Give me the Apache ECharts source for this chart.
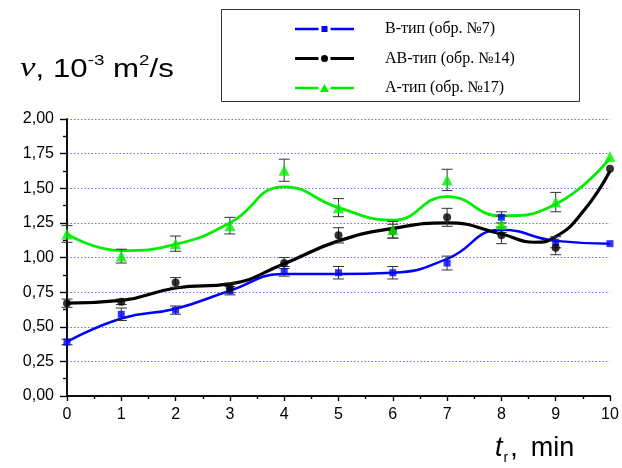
<!DOCTYPE html>
<html><head><meta charset="utf-8">
<script src="https://cdn.jsdelivr.net/npm/echarts@6/dist/echarts.min.js"></script>
<style>html,body{margin:0;padding:0;background:#fff}#c{width:622px;height:468px}</style>
</head><body><div id="c"></div>
<script>
var time = [0,1,2,3,4,5,6,7,8,9,10];
var xTicks = ['0','1','2','3','4','5','6','7','8','9','10'];
var legendNames = ['В-тип (обр. №7)', 'АВ-тип (обр. №14)', 'А-тип (обр. №17)'];
// measured points
var bValues  = [0.39,0.59,0.62,0.76,0.90,0.89,0.89,0.96,1.29,1.11,1.10];
var bErr     = [0.02,0.045,0.03,0.03,0.035,0.045,0.045,0.05,0.04,0.04,0.0];
var abValues = [0.67,0.68,0.82,0.78,0.96,1.16,1.19,1.29,1.16,1.07,1.64];
var abErr    = [0.03,0.02,0.035,0.035,0.04,0.055,0.05,0.065,0.06,0.05,0.0];
var aValues  = [1.17,1.01,1.10,1.23,1.63,1.36,1.20,1.56,1.24,1.40,1.73];
var aErr     = [0.06,0.05,0.055,0.06,0.08,0.065,0.06,0.077,0.06,0.07,0.0];
// fitted curves
var bFitTime  = [0,1,2,3,4,5,6,7,8,9,10];
var bFit      = [0.39,0.56,0.63,0.76,0.88,0.88,0.89,0.99,1.20,1.12,1.10];
var abFitTime = [0,1,2,3,4,5,6,7,8,8.6,9,9.5,10];
var abFit     = [0.67,0.69,0.78,0.81,0.955,1.12,1.21,1.25,1.17,1.11,1.15,1.33,1.625];
var aFitTime  = [0,1,2,3,4,5,6,7,8,9,10];
var aFit      = [1.17,1.05,1.095,1.25,1.51,1.36,1.27,1.44,1.30,1.385,1.72];

function pairs(v){ return time.map(function(t,i){ return [t, v[i]]; }); }
function fitPairs(ts, v){ return ts.map(function(t,i){ return [t, v[i]]; }); }
function errData(v,e){ return time.map(function(t,i){ return [t, v[i]-e[i], v[i]+e[i]]; }); }
function errSeries(v,e,z){
  return {type:'custom', data: errData(v,e), z: z, silent:true,
    renderItem: function(params, api){
      var x = api.value(0), lo = api.value(1), hi = api.value(2);
      if (hi - lo < 1e-6) return null;
      var p1 = api.coord([x, lo]), p2 = api.coord([x, hi]);
      var w = 5.5;
      var st = {stroke:'#333', lineWidth:1};
      return {type:'group', children:[
        {type:'line', shape:{x1:p1[0],y1:p1[1],x2:p2[0],y2:p2[1]}, style:st},
        {type:'line', shape:{x1:p1[0]-w,y1:p1[1],x2:p1[0]+w,y2:p1[1]}, style:st},
        {type:'line', shape:{x1:p2[0]-w,y1:p2[1],x2:p2[0]+w,y2:p2[1]}, style:st}
      ]};
    }};
}
// legend icons: line - gap - marker - gap - line (59 x 10 box)
var pad = 'M0,0 L0.01,0 Z M59,10 L58.99,10 Z ';
var iconB  = 'path://' + pad + 'M0,3.75 L23.5,3.75 L23.5,6.25 L0,6.25 Z M26.5,2 L32.5,2 L32.5,8 L26.5,8 Z M35.5,3.75 L59,3.75 L59,6.25 L35.5,6.25 Z';
var iconAB = 'path://' + pad + 'M0,3.5 L23.5,3.5 L23.5,6.5 L0,6.5 Z M26,5 A3.5,3.5 0 1,0 33,5 A3.5,3.5 0 1,0 26,5 Z M35.5,3.5 L59,3.5 L59,6.5 L35.5,6.5 Z';
var iconA  = 'path://' + pad + 'M0,3.75 L23.5,3.75 L23.5,6.25 L0,6.25 Z M25,9 L29.5,1 L34,9 Z M35.5,3.75 L59,3.75 L59,6.25 L35.5,6.25 Z';

var chart = echarts.init(document.getElementById('c'), null, {renderer:'canvas'});
var axisLine = {show:true, lineStyle:{color:'#000', width:1.5}};
chart.setOption({
  animation:false,
  backgroundColor:'#fff',
  grid:{left:67, top:119, right:12, bottom:72, containLabel:false},
  legend:{
    data: [{name:legendNames[0], icon:iconB}, {name:legendNames[1], icon:iconAB}, {name:legendNames[2], icon:iconA}],
    orient:'vertical', left:295, top:21, padding:0,
    itemWidth:59, itemHeight:10, itemGap:13.5,
    textStyle:{fontFamily:'Liberation Serif', fontSize:16, lineHeight:16, color:'#000', padding:[0,0,0,26]},
    selectedMode:false
  },
  xAxis:[
    {type:'value', min:0, max:10, interval:1, position:'bottom',
     axisLine:axisLine,
     axisTick:{show:true, inside:false, length:5, lineStyle:{color:'#000', width:1.2}},
     minorTick:{show:true, splitNumber:2, length:3, lineStyle:{color:'#000', width:1.2}},
     splitLine:{show:false},
     axisLabel:{margin:11, fontFamily:'Liberation Sans', fontSize:16, color:'#000',
       formatter:function(v){ return xTicks[Math.round(v)]; }}},
    {type:'value', min:0, max:10, interval:1, position:'top',
     axisLine:axisLine,
     axisTick:{show:true, inside:true, length:5, lineStyle:{color:'#000', width:1.2}},
     minorTick:{show:true, splitNumber:2, length:3, lineStyle:{color:'#000', width:1.2}},
     splitLine:{show:false}, axisLabel:{show:false}}
  ],
  yAxis:[
    {type:'value', min:0, max:2, interval:0.25, position:'left',
     axisLine:axisLine,
     axisTick:{show:true, inside:false, length:7, lineStyle:{color:'#000', width:1.2}},
     minorTick:{show:true, splitNumber:2, length:4, lineStyle:{color:'#000', width:1.2}},
     splitLine:{show:true, lineStyle:{color:'#6f6fff', type:[1.5,2], width:1}},
     axisLabel:{margin:13, fontFamily:'Liberation Sans', fontSize:16, color:'#000',
       formatter:function(v){ return v.toFixed(2).replace('.', ','); }}},
    {type:'value', min:0, max:2, interval:0.25, position:'right',
     axisLine:axisLine,
     axisTick:{show:true, inside:true, length:7, lineStyle:{color:'#000', width:1.2}},
     minorTick:{show:true, splitNumber:2, length:4, lineStyle:{color:'#000', width:1.2}},
     splitLine:{show:false}, axisLabel:{show:false}}
  ],
  graphic:[
    {type:'rect', shape:{x:221.5, y:9.5, width:358, height:92}, style:{fill:'none', stroke:'#333', lineWidth:1}, z:100},
    {type:'text', x:20, y:53, scaleX:1.25, style:{
      text:'{i|ν}{n|, 10}{s|-3}{n| m}{s|2}{n|/s}',
      rich:{
        i:{fontFamily:'Liberation Serif', fontStyle:'italic', fontSize:28, lineHeight:30, verticalAlign:'bottom', fill:'#000'},
        n:{fontFamily:'Liberation Sans', fontSize:25, lineHeight:30, verticalAlign:'bottom', fill:'#000'},
        s:{fontFamily:'Liberation Sans', fontSize:15, lineHeight:30, verticalAlign:'top', fill:'#000'}
      }}},
    {type:'text', x:495, y:435, style:{
      text:'{i|t}{b|r}{c|,}{n|min}',
      rich:{
        i:{fontFamily:'Liberation Sans', fontStyle:'italic', fontSize:27, lineHeight:30, verticalAlign:'top', fill:'#000'},
        b:{fontFamily:'Liberation Sans', fontSize:14, lineHeight:30, verticalAlign:'bottom', fill:'#000', padding:[0,0,0,1]},
        c:{fontFamily:'Liberation Sans', fontSize:27, lineHeight:30, verticalAlign:'top', fill:'#000', padding:[0,13,0,2]},
        n:{fontFamily:'Liberation Sans', fontSize:27, lineHeight:30, verticalAlign:'top', fill:'#000'}
      }}}
  ],
  series:[
    {name:legendNames[0], type:'line', smooth:0.5, data:fitPairs(bFitTime,bFit), showSymbol:false, symbol:'rect',
     color:'#0000ff', lineStyle:{color:'#0000ff', width:2.5}, itemStyle:{color:'#0000ff'}, z:3},
    {name:legendNames[1], type:'line', smooth:0.5, data:fitPairs(abFitTime,abFit), showSymbol:false, symbol:'circle',
     color:'#000', lineStyle:{color:'#000', width:3.2}, itemStyle:{color:'#000'}, z:3},
    {name:legendNames[2], type:'line', smooth:0.5, data:fitPairs(aFitTime,aFit), showSymbol:false, symbol:'triangle',
     color:'#00ee00', lineStyle:{color:'#00ee00', width:2.8}, itemStyle:{color:'#00ee00'}, z:3},
    errSeries(bValues,bErr,4), errSeries(abValues,abErr,4), errSeries(aValues,aErr,4),
    {name:'bPts', type:'scatter', data:pairs(bValues), symbol:'rect', symbolSize:7, itemStyle:{color:'#0000ff'}, z:5},
    {name:'abPts', type:'scatter', data:pairs(abValues), symbol:'circle', symbolSize:8, itemStyle:{color:'#000'}, z:5},
    {name:'aPts', type:'scatter', data:pairs(aValues), symbol:'triangle', symbolSize:11, itemStyle:{color:'#00ee00'}, z:6}
  ]
});
</script></body></html>
